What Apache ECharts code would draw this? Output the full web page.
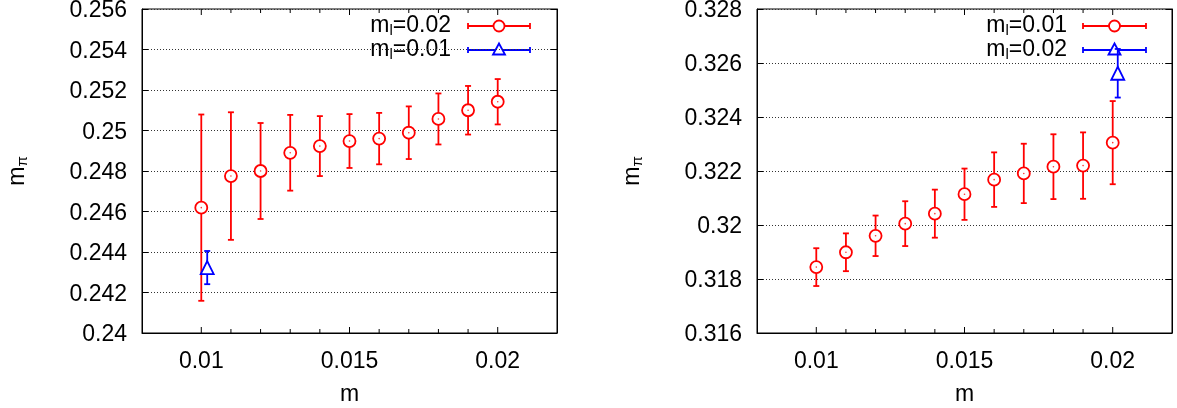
<!DOCTYPE html>
<html>
<head>
<meta charset="utf-8">
<script src="https://cdn.jsdelivr.net/npm/echarts@6/dist/echarts.min.js"></script>
<style>
html,body{margin:0;padding:0;background:#fff;}
#c{width:1177px;height:408px;}
</style>
</head>
<body>
<div id="c"></div>
<script>
// ---- data ----
const mValues = [0.010, 0.011, 0.012, 0.013, 0.014, 0.015, 0.016, 0.017, 0.018, 0.019, 0.020];
const xTickValues = [0.010, 0.011, 0.012, 0.013, 0.014, 0.015, 0.016, 0.017, 0.018, 0.019, 0.020];
const xLabelValues = [0.01, 0.015, 0.02];

// left panel
const leftRedLabel = 'm_l=0.02';
const leftRedY   = [0.24619, 0.24775, 0.2480, 0.2489, 0.24923, 0.24948, 0.2496, 0.24989, 0.25057, 0.2510, 0.25142];
const leftRedErr = [0.0046, 0.00315, 0.00237, 0.00187, 0.00148, 0.00133, 0.00127, 0.0013, 0.00126, 0.0012, 0.00112];
const leftBlueLabel = 'm_l=0.01';
const leftBlueX   = [0.0102];
const leftBlueY   = [0.24323];
const leftBlueErr = [0.00082];

// right panel
const rightRedLabel = 'm_l=0.01';
const rightRedY   = [0.31844, 0.31899, 0.3196, 0.32005, 0.32042, 0.32114, 0.32168, 0.32191, 0.32216, 0.3222, 0.32305];
const rightRedErr = [0.0007, 0.0007, 0.00075, 0.00083, 0.00089, 0.00095, 0.00101, 0.0011, 0.0012, 0.00123, 0.00154];
const rightBlueLabel = 'm_l=0.02';
const rightBlueX   = [0.02017];
const rightBlueY   = [0.32562];
const rightBlueErr = [0.0009];

const xRange = [0.008, 0.022];
const leftYRange = [0.24, 0.256];
const rightYRange = [0.316, 0.328];
const yStep = 0.002;

// ---- styling ----
const FONT = 'Liberation Sans, Arial, Helvetica, sans-serif';
const RED = '#ff0000';
const BLUE = '#0000ff';
const FS = 23;
const LW = 1.8;

const chart = echarts.init(document.getElementById('c'), null, {renderer: 'canvas'});

function fmtNum(v) { return String(parseFloat(Number(v).toFixed(6))); }

function richName() {
  return {
    a: {fontSize: FS, fontFamily: FONT, color: '#000', lineHeight: 24},
    b: {fontSize: 15, fontFamily: FONT, color: '#000', lineHeight: 4, verticalAlign: 'bottom'}
  };
}
function subText(label) {
  const m = label.match(/^(\w)_(\w)(.*)$/);
  return '{a|' + m[1] + '}{b|' + m[2] + '}{a|' + m[3] + '}';
}

const grids = [
  {left: 142, top: 9, width: 415, height: 324, show: true, borderColor: '#000', borderWidth: 1,
   backgroundColor: 'transparent', containLabel: false, outerBoundsMode: 'none'},
  {left: 757, top: 9, width: 415, height: 324, show: true, borderColor: '#000', borderWidth: 1,
   backgroundColor: 'transparent', containLabel: false, outerBoundsMode: 'none'}
];

function makeXAxis(gi) {
  return {
    type: 'value', gridIndex: gi, min: xRange[0], max: xRange[1], interval: 0.001,
    name: 'm', nameLocation: 'middle', nameGap: 50,
    nameTextStyle: {fontSize: FS, fontFamily: FONT, color: '#000'},
    axisLine: {show: true, lineStyle: {color: '#000', width: 1}},
    axisTick: {show: false},
    splitLine: {show: false},
    axisLabel: {
      fontSize: FS, fontFamily: FONT, color: '#000', margin: 17,
      showMinLabel: false, showMaxLabel: false,
      formatter: function (v) {
        for (const t of xLabelValues) if (Math.abs(v - t) < 1e-9) return fmtNum(t);
        return '';
      }
    }
  };
}
function makeYAxes(gi, range) {
  return [{
    type: 'value', gridIndex: gi, min: range[0], max: range[1], interval: yStep, position: 'left',
    name: '{a|m}{b|\u03c0}', nameLocation: 'middle', nameGap: 112, nameRotate: 90,
    nameTextStyle: {rich: richName()},
    axisLine: {show: true, lineStyle: {color: '#000', width: 1}},
    axisTick: {show: true, inside: true, length: 6, lineStyle: {color: '#000', width: 1}},
    splitLine: {show: true, lineStyle: {color: '#333', type: [1, 2], width: 1}},
    axisLabel: {fontSize: FS, fontFamily: FONT, color: '#000', margin: 15,
                verticalAlign: 'top', lineHeight: 4, formatter: fmtNum}
  }, {
    type: 'value', gridIndex: gi, min: range[0], max: range[1], interval: yStep, position: 'right',
    axisLine: {show: true, lineStyle: {color: '#000', width: 1}},
    axisTick: {show: true, inside: true, length: 6, lineStyle: {color: '#000', width: 1}},
    splitLine: {show: false},
    axisLabel: {show: false}
  }];
}

function errData(xs, ys, es) {
  return ys.map((y, i) => [xs[i], y - es[i], y + es[i]]);
}
function ptData(xs, ys) { return ys.map((y, i) => [xs[i], y]); }

function errSeries(xi, yi, data, color) {
  return {
    type: 'custom', xAxisIndex: xi, yAxisIndex: yi, clip: true, z: 3,
    data: data,
    encode: {x: 0, y: [1, 2]},
    renderItem: function (params, api) {
      const x = api.value(0);
      const pLo = api.coord([x, api.value(1)]);
      const pHi = api.coord([x, api.value(2)]);
      const w = 3;
      const st = {stroke: color, lineWidth: LW};
      return {type: 'group', children: [
        {type: 'line', shape: {x1: pLo[0], y1: pLo[1], x2: pHi[0], y2: pHi[1]}, style: st},
        {type: 'line', shape: {x1: pLo[0] - w, y1: pLo[1], x2: pLo[0] + w, y2: pLo[1]}, style: st},
        {type: 'line', shape: {x1: pHi[0] - w, y1: pHi[1], x2: pHi[0] + w, y2: pHi[1]}, style: st}
      ]};
    }
  };
}
function ptSeries(xi, yi, data, color, symbol) {
  return {
    type: 'scatter', xAxisIndex: xi, yAxisIndex: yi, z: 4,
    data: data, symbol: symbol, symbolSize: symbol === 'circle' ? 12 : 13,
    itemStyle: {color: '#fff', borderColor: color, borderWidth: LW, opacity: 1},
    emphasis: {disabled: true}, silent: true
  };
}
function dotSeries(xi, yi, data, color) {
  return {
    type: 'scatter', xAxisIndex: xi, yAxisIndex: yi, z: 5,
    data: data, symbol: 'circle', symbolSize: 1.6,
    itemStyle: {color: color}, silent: true
  };
}
function tickSeries(xi, yi, yRange) {
  return {
    type: 'custom', xAxisIndex: xi, yAxisIndex: yi, z: 6, clip: false, silent: true,
    data: xTickValues.map(v => [v]),
    encode: {x: 0},
    renderItem: function (params, api) {
      const v = api.value(0);
      const major = xLabelValues.some(t => Math.abs(t - v) < 1e-9);
      const len = major ? 6 : 4;
      const b = api.coord([v, yRange[0]]);
      const t = api.coord([v, yRange[1]]);
      const st = {stroke: '#000', lineWidth: 1};
      return {type: 'group', children: [
        {type: 'line', shape: {x1: b[0], y1: b[1], x2: b[0], y2: b[1] - len}, style: st},
        {type: 'line', shape: {x1: t[0], y1: t[1], x2: t[0], y2: t[1] + len}, style: st}
      ]};
    }
  };
}

function legendRow(textRight, lineX1, lineX2, y, label, color, symbol) {
  const mid = (lineX1 + lineX2) / 2;
  const st = {stroke: color, lineWidth: LW};
  const children = [
    {type: 'text', x: textRight, y: y, style: {
      text: subText(label), align: 'right', verticalAlign: 'middle',
      rich: {
        a: {fontSize: FS, fontFamily: FONT, fill: '#000', lineHeight: 24},
        b: {fontSize: 15, fontFamily: FONT, fill: '#000', lineHeight: 4, verticalAlign: 'bottom'}
      }
    }},
    {type: 'line', shape: {x1: lineX1, y1: y, x2: lineX2, y2: y}, style: st},
    {type: 'line', shape: {x1: lineX1, y1: y - 3, x2: lineX1, y2: y + 3}, style: st},
    {type: 'line', shape: {x1: lineX2, y1: y - 3, x2: lineX2, y2: y + 3}, style: st}
  ];
  if (symbol === 'circle') {
    children.push({type: 'circle', shape: {cx: mid, cy: y, r: 5.5}, style: {fill: '#fff', stroke: color, lineWidth: LW}});
  } else {
    children.push({type: 'polygon', shape: {points: [[mid, y - 6.5], [mid - 6, y + 4.5], [mid + 6, y + 4.5]]}, style: {fill: '#fff', stroke: color, lineWidth: LW}});
  }
  return {type: 'group', children: children, z: 10};
}

const option = {
  animation: false,
  backgroundColor: '#fff',
  grid: grids,
  xAxis: [makeXAxis(0), makeXAxis(1)],
  yAxis: [].concat(makeYAxes(0, leftYRange), makeYAxes(1, rightYRange)),
  series: [
    errSeries(0, 0, errData(mValues, leftRedY, leftRedErr), RED),
    ptSeries(0, 0, ptData(mValues, leftRedY), RED, 'circle'),
    dotSeries(0, 0, ptData(mValues, leftRedY), RED),
    errSeries(0, 0, errData(leftBlueX, leftBlueY, leftBlueErr), BLUE),
    ptSeries(0, 0, ptData(leftBlueX, leftBlueY), BLUE, 'triangle'),
    tickSeries(0, 0, leftYRange),

    errSeries(1, 2, errData(mValues, rightRedY, rightRedErr), RED),
    ptSeries(1, 2, ptData(mValues, rightRedY), RED, 'circle'),
    dotSeries(1, 2, ptData(mValues, rightRedY), RED),
    errSeries(1, 2, errData(rightBlueX, rightBlueY, rightBlueErr), BLUE),
    ptSeries(1, 2, ptData(rightBlueX, rightBlueY), BLUE, 'triangle'),
    tickSeries(1, 2, rightYRange)
  ],
  graphic: [
    legendRow(451, 468, 530, 26, leftRedLabel, RED, 'circle'),
    legendRow(451, 468, 530, 50, leftBlueLabel, BLUE, 'triangle'),
    legendRow(1067, 1083, 1146, 26, rightRedLabel, RED, 'circle'),
    legendRow(1067, 1083, 1146, 50, rightBlueLabel, BLUE, 'triangle')
  ]
};
chart.setOption(option);
</script>
</body>
</html>
